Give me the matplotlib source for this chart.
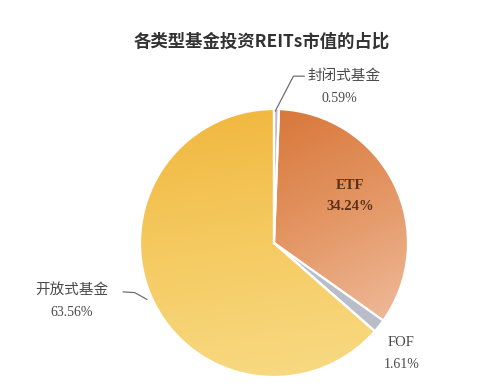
import numpy as np
import matplotlib.pyplot as plt
from matplotlib.colors import LinearSegmentedColormap

plt.rcParams['font.family'] = ['Noto Sans CJK SC', 'DejaVu Sans']

title = '各类型基金投资REITs市值的占比'
labels = ['封闭式基金', 'ETF', 'FOF', '开放式基金']
shares = [0.59, 34.24, 1.61, 63.56]
pct_text = ['0.59%', '34.24%', '1.61%', '63.56%']

fig = plt.figure(figsize=(5.01, 3.92), dpi=100)
# axes box = bounding square of the pie
ax = fig.add_axes([(274 - 134) / 501, (392 - 243 - 134) / 392, 268 / 501, 268 / 392])

wedges, _ = ax.pie(shares, startangle=90, counterclock=False, radius=1,
                   colors=['#b9bdc9', 'none', '#b9bdc9', 'none'],
                   wedgeprops=dict(edgecolor='white', linewidth=1.6))

# gradient fills clipped to the two big wedges
xx, yy = np.meshgrid(np.linspace(-1, 1, 300), np.linspace(-1, 1, 300))
etf_cmap = LinearSegmentedColormap.from_list('etf', ['#d8773a', '#e39562', '#eeb897'])
open_cmap = LinearSegmentedColormap.from_list('open', ['#f1b942', '#f5cb62', '#f8d981'])

t_etf = 0.45 * xx - 0.9 * yy
im = ax.imshow(t_etf, extent=[-1, 1, -1, 1], origin='lower', cmap=etf_cmap,
               vmin=-0.9, vmax=0.9, zorder=0)
im.set_clip_path(wedges[1])

t_open = -yy + 0.15 * xx
im2 = ax.imshow(t_open, extent=[-1, 1, -1, 1], origin='lower', cmap=open_cmap,
                vmin=-1, vmax=1, zorder=0)
im2.set_clip_path(wedges[3])

ax.set_xlim(-1, 1)
ax.set_ylim(-1, 1)
ax.axis('off')

grey = '#4a4a4a'
serif = ['Liberation Serif', 'DejaVu Serif']

# 封闭式基金
ax.plot([0.01, 0.145, 0.225], [0.985, 1.245, 1.245], color='#6f6f6f', lw=0.9, clip_on=False)
ax.text(0.52, 1.25, labels[0], ha='center', va='center', fontsize=10.5, color=grey, clip_on=False)
ax.text(0.49, 1.08, pct_text[0], ha='center', va='center', fontsize=10, color=grey,
        family=serif, clip_on=False)

# ETF
ax.text(0.57, 0.43, labels[1], ha='center', va='center', fontsize=10.5, color='#5a3018',
        family=serif, fontweight='bold')
ax.text(0.57, 0.27, pct_text[1], ha='center', va='center', fontsize=10.5, color='#5a3018',
        family=serif, fontweight='bold')

# FOF
ax.text(0.95, -0.745, labels[2], ha='center', va='center', fontsize=10.5, color=grey,
        family=serif, clip_on=False)
ax.text(0.95, -0.91, pct_text[2], ha='center', va='center', fontsize=10, color=grey,
        family=serif, clip_on=False)

# 开放式基金
ax.plot([-1.125, -1.04, -0.95], [-0.365, -0.37, -0.42], color='#6f6f6f', lw=0.9, clip_on=False)
ax.text(-1.51, -0.35, labels[3], ha='center', va='center', fontsize=10.5, color=grey, clip_on=False)
ax.text(-1.51, -0.515, pct_text[3], ha='center', va='center', fontsize=10, color=grey,
        family=serif, clip_on=False)

fig.text(262 / 501, 1 - 42 / 392, title, ha='center', va='center', fontsize=12.5,
         color='#333333', fontweight='bold')

fig.savefig('out.png', dpi=100)
